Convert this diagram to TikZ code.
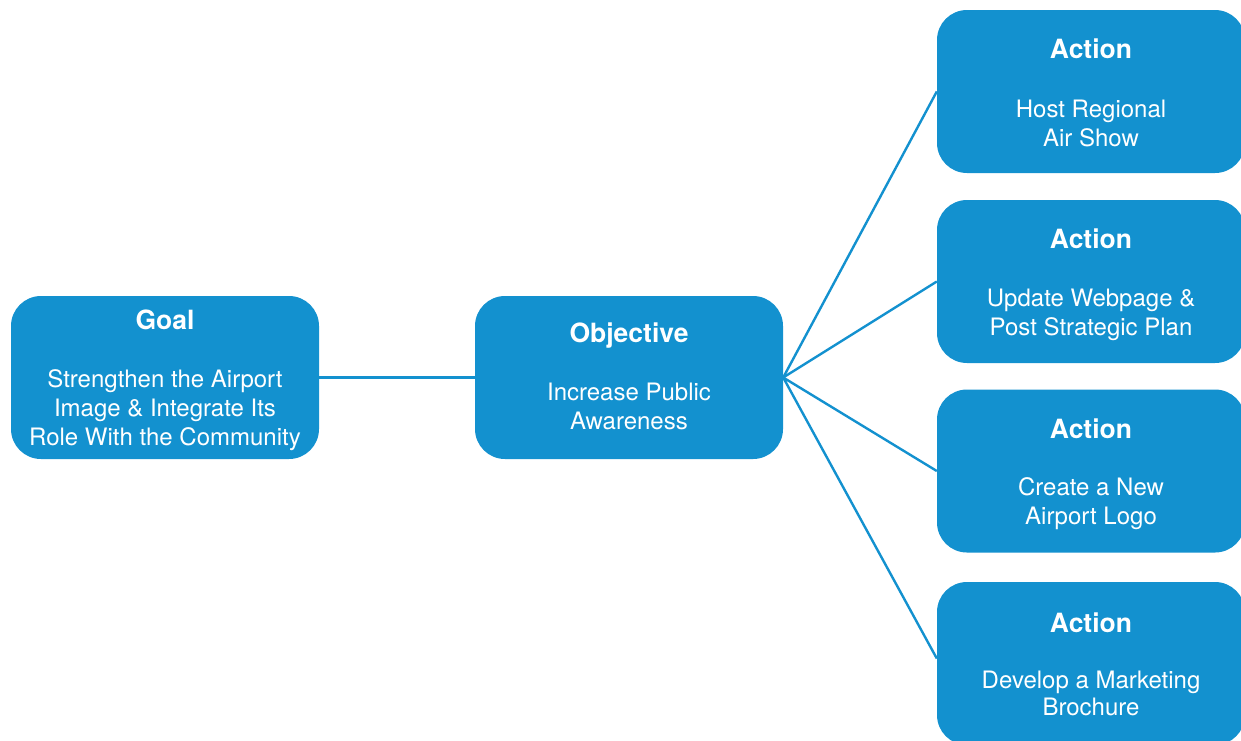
\documentclass[tikz,border=0pt]{standalone}
\usepackage{fontspec}
\setmainfont{TeX Gyre Heros}
\definecolor{boxblue}{HTML}{1391CF}
\begin{document}
\begin{tikzpicture}[x=1pt,y=-1pt,
  box/.style={fill=boxblue,draw=none,rounded corners=30pt,inner sep=0pt,minimum width=308pt,minimum height=163pt},
  ttl/.style={text=white,font=\fontsize{26.5}{30}\selectfont\bfseries,inner sep=0pt,anchor=center},
  bodytxt/.style={text=white,font=\fontsize{24}{29}\selectfont,inner sep=0pt,align=center,anchor=center},
  link/.style={draw=boxblue,line width=2.4pt}]
\useasboundingbox (0,0) rectangle (1241,740);
\clip (0,0) rectangle (1241,740);
% boxes
\node[box] (goal) at (165,377.5) {};
\node[box] (obj) at (629,377.5) {};
\node[box] (a1) at (1091,91.5) {};
\node[box] (a2) at (1091,281.5) {};
\node[box] (a3) at (1091,471) {};
\node[box] (a4) at (1091,663.5) {};
% connectors
\draw[link] (goal.east) -- (obj.west);
\draw[link] (obj.east) -- (a1.west);
\draw[link] (obj.east) -- (a2.west);
\draw[link] (obj.east) -- (a3.west);
\draw[link] (obj.east) -- ([yshift=5pt]a4.west);
% texts
\node[ttl] (goalt) at (165,320) {Goal};
\node[bodytxt] (goalb) at (165,410) {Strengthen the Airport\\Image \& Integrate Its\\Role With the Community};
\node[ttl] (objt) at (629,336) {Objective};
\node[bodytxt] (objb) at (629,406.5) {Increase Public\\Awareness};
\node[ttl] (a1t) at (1091,48.5) {Action};
\node[bodytxt] (a1b) at (1091,123) {Host Regional\\Air Show};
\node[ttl] (a2t) at (1091,238.5) {Action};
\node[bodytxt] (a2b) at (1091,314.5) {Update Webpage \&\\Post Strategic Plan};
\node[ttl] (a3t) at (1091,428.5) {Action};
\node[bodytxt] (a3b) at (1091,504) {Create a New\\Airport Logo};
\node[ttl] (a4t) at (1091,622.5) {Action};
\node[bodytxt,font=\fontsize{24}{27}\selectfont] (a4b) at (1091,693) {Develop a Marketing\\Brochure};
\end{tikzpicture}
\end{document}
